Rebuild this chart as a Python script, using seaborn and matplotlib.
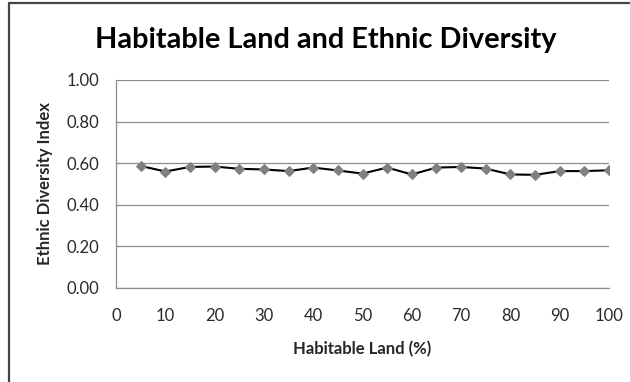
import matplotlib
matplotlib.use("Agg")
import matplotlib.pyplot as plt
from matplotlib.lines import Line2D
import pandas as pd
import seaborn as sns

# Share of habitable land (%) and the ethnic diversity index at each level
habitable_land = [5, 10, 15, 20, 25, 30, 35, 40, 45, 50,
                  55, 60, 65, 70, 75, 80, 85, 90, 95, 100]
diversity_index = [0.587, 0.560, 0.582, 0.584, 0.573, 0.570, 0.562, 0.579, 0.565, 0.550,
                   0.579, 0.546, 0.579, 0.582, 0.574, 0.546, 0.544, 0.562, 0.562, 0.566]
x_ticks = list(range(0, 101, 10))
y_ticks = [0.0, 0.2, 0.4, 0.6, 0.8, 1.0]

df = pd.DataFrame({"land": habitable_land, "index": diversity_index})

sns.set_theme(style="white")
plt.rcParams["font.family"] = ["Lato", "DejaVu Sans"]

W, H = 630, 382
fig = plt.figure(figsize=(W / 100, H / 100), dpi=100)
ax = fig.add_axes([116 / W, 1 - 288 / H, (609 - 116) / W, (288 - 80) / H])

sns.lineplot(data=df, x="land", y="index", ax=ax, color="black", linewidth=1.5,
             marker="D", markersize=5, markerfacecolor="#808080",
             markeredgecolor="#808080", zorder=3)

ax.set_xlim(0, 100)
ax.set_ylim(0, 1)
ax.set_xticks(x_ticks)
ax.set_yticks(y_ticks)
ax.set_yticklabels([f"{v:.2f}" for v in y_ticks])

grid_col = "#8c8c8c"
ax.yaxis.grid(True, color=grid_col, linewidth=0.9)
ax.xaxis.grid(False)
for side in ("top", "right"):
    ax.spines[side].set_visible(False)
for side in ("left", "bottom"):
    ax.spines[side].set_color(grid_col)
    ax.spines[side].set_linewidth(0.9)

ax.tick_params(axis="both", which="major", direction="out", length=3.6, width=0.9,
               color=grid_col, labelsize=12, labelcolor="#2a2a2a")
ax.tick_params(axis="x", pad=11)
ax.tick_params(axis="y", pad=8.5)

ax.set_xlabel("Habitable Land (%)", fontsize=12, fontweight="bold", labelpad=12)
ax.set_ylabel("Ethnic Diversity Index", fontsize=12, fontweight="bold", labelpad=10)

fig.text(326 / W, 1 - 40 / H, "Habitable Land and Ethnic Diversity",
         ha="center", va="center", fontsize=20.8, fontweight="bold", color="black")

# Chart-area frame
fig.add_artist(Line2D([9 / W, 1.0], [1 - 3 / H, 1 - 3 / H], color="#444444",
                      linewidth=1.6, transform=fig.transFigure))
fig.add_artist(Line2D([9 / W, 9 / W], [0.0, 1 - 3 / H], color="#444444",
                      linewidth=1.6, transform=fig.transFigure))

fig.savefig("out.png", dpi=100)
